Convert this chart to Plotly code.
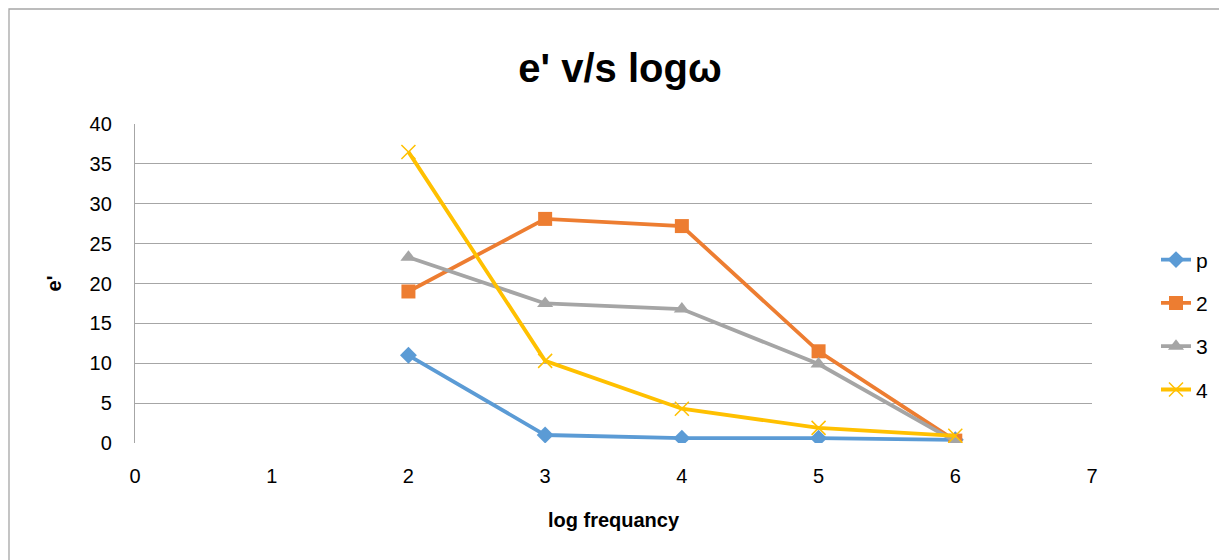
import plotly.graph_objects as go

x_vals = [2, 3, 4, 5, 6]
series_names = ["p", "2", "3", "4"]
p_vals = [11.0, 1.0, 0.6, 0.6, 0.4]
s2_vals = [19.0, 28.1, 27.2, 11.5, 0.3]
s3_vals = [23.3, 17.5, 16.8, 9.9, 0.2]
s4_vals = [36.5, 10.3, 4.3, 1.9, 0.9]
x_ticks = [0, 1, 2, 3, 4, 5, 6, 7]
y_ticks = [0, 5, 10, 15, 20, 25, 30, 35, 40]

colors = ["#5B9BD5", "#ED7D31", "#A5A5A5", "#FFC000"]
symbols = ["diamond", "square", "triangle-up", "x-thin"]
sizes = [13, 14, 14, 14]
data = [p_vals, s2_vals, s3_vals, s4_vals]

fig = go.Figure()
for name, vals, c, s, sz in zip(series_names, data, colors, symbols, sizes):
    fig.add_trace(go.Scatter(
        x=x_vals, y=vals, name=name, mode="lines+markers",
        legendgroup=name,
        line=dict(color=c, width=3.8),
        marker=dict(symbol=s, size=sz, color=c, line=dict(color=c, width=1.5 if s == "x-thin" else 0)),
    ))

font_family = "Liberation Sans, Open Sans, sans-serif"
# page is rendered with an 8px body margin, so plot area margins are offset by 8px
L, T, PW, PH = 127, 116, 957, 319
fig.update_layout(
    width=1227, height=560,
    margin=dict(l=L, r=1227 - L - PW, t=T, b=560 - T - PH),
    paper_bgcolor="white", plot_bgcolor="white",
    font=dict(family=font_family, color="#000000", size=20),
    title=dict(text="<b>e' v/s logω</b>", x=(620 - 8) / 1227, xanchor="center", y=1 - (68 - 8) / 560, yanchor="middle",
               font=dict(size=40, family=font_family, color="#000000")),
    xaxis=dict(range=[0, 7], tickvals=x_ticks, showgrid=False, zeroline=False,
               showline=False, ticks="", tickfont=dict(size=20), ticklabelstandoff=19,
               title=dict(text="<b>log frequancy</b>", font=dict(size=20), standoff=26)),
    yaxis=dict(range=[0, 40], tickvals=y_ticks, showgrid=True, gridcolor="#A6A6A6", gridwidth=1.3,
               zeroline=False, showline=True, linecolor="#A6A6A6", linewidth=1.3, ticks="",
               tickfont=dict(size=20), ticklabelstandoff=18,
               title=dict(text="<b>e'</b>", font=dict(size=20), standoff=22)),
    legend=dict(x=(1156 - 8 - L) / PW, xanchor="left", y=0.37, yanchor="middle",
                font=dict(size=21), tracegroupgap=13, bgcolor="rgba(0,0,0,0)"),
    showlegend=True,
)
fig.add_shape(type="rect", xref="paper", yref="paper",
              x0=(9 - 8 - L) / PW, x1=1.3, y0=-0.6, y1=(T + PH - 1) / PH,
              line=dict(color="#A6A6A6", width=1.3), fillcolor="rgba(0,0,0,0)", layer="below")

fig.write_html("out.html")
